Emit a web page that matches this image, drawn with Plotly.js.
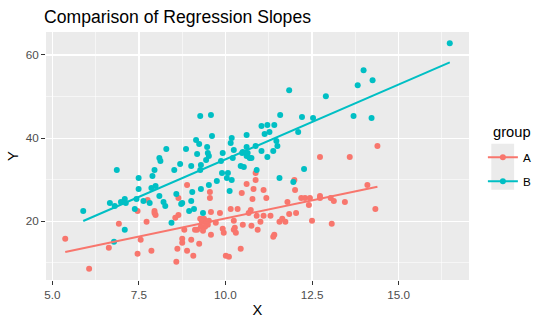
<!DOCTYPE html>
<html><head><meta charset="utf-8">
<script src="https://cdn.plot.ly/plotly-3.0.1.min.js"></script>
<style>html,body{margin:0;padding:0;background:#fff}#chart{width:548px;height:325px}</style>
</head><body><div id="chart"></div>
<script>
const groups = ["A","B"];
const legendTitle = "group";
const xA = [5.37,6.06,6.63,6.92,7.46,7.46,7.55,7.72,7.75,7.86,7.95,7.95,7.98,8.55,8.64,8.58,8.61,8.64,8.75,8.75,
8.81,8.89,8.89,9.01,9.07,9.24,9.27,9.38,9.32,9.44,9.52,9.49,9.41,9.29,9.18,9.12,9.35,9.58,9.72,9.92,
9.95,9.55,9.55,9.58,9.84,10.01,10.10,10.44,10.61,10.87,10.87,10.81,11.10,10.47,12.01,11.99,10.78,11.18,11.79,12.19,
12.30,12.44,12.73,12.41,10.15,10.35,10.73,10.67,10.90,11.10,11.30,11.84,12.04,10.24,11.01,11.56,11.64,11.73,12.50,10.50,
10.75,10.27,10.24,10.30,10.93,11.41,11.38,12.73,13.59,14.39,14.10,13.04,13.13,13.45,14.33,13.07,12.73];
const yA = [15.75,8.55,13.59,19.35,22.47,12.15,15.51,19.83,25.11,12.87,22.47,21.99,21.51,20.79,21.51,10.23,13.35,25.59,15.75,14.79,
17.91,28.72,12.87,15.51,11.67,14.55,20.55,20.55,19.83,19.59,20.07,19.11,18.63,18.63,17.91,17.91,17.67,16.71,19.59,18.15,
17.19,27.03,25.59,22.23,21.99,11.67,11.43,13.35,28.96,31.60,29.92,27.76,27.51,26.79,27.51,29.92,25.35,25.59,24.63,25.59,
25.59,25.59,26.07,23.91,22.95,22.95,22.71,21.99,21.27,21.27,21.27,21.75,21.99,20.07,19.83,19.83,20.55,19.83,20.07,19.11,
18.87,18.39,17.91,17.19,17.91,16.71,16.23,35.44,35.44,38.08,28.72,25.59,24.87,24.63,22.95,19.35,25.59];
const xB = [8.29,8.09,8.12,11.84,9.27,9.58,11.58,12.21,12.53,11.04,11.21,11.41,11.27,11.13,12.10,9.61,10.61,10.18,9.15,9.24,
10.15,11.47,11.50,9.47,10.61,8.86,10.24,11.04,11.38,9.18,9.49,9.92,9.52,10.48,10.64,10.61,11.21,10.70,10.75,10.21,
9.44,9.87,16.48,13.99,14.25,13.82,12.90,13.70,14.22,10.87,10.50,8.69,9.29,9.01,7.95,8.52,9.27,9.90,10.07,7.89,
7.49,10.04,9.75,9.52,7.98,7.86,7.49,9.29,10.44,10.53,12.27,10.90,10.18,11.56,11.96,10.12,6.86,8.09,8.58,6.66,
6.80,6.98,7.09,7.12,7.43,7.63,7.81,8.21,8.26,8.72,7.38,5.89,8.44,7.09,6.78,9.04,9.01,8.75,8.95,9.09,9.35];
const yB = [37.36,35.20,34.48,51.52,45.28,45.52,45.52,45.04,44.80,42.88,43.12,43.12,41.44,40.96,41.44,40.48,40.72,40.00,39.52,38.56,
38.80,39.28,38.08,37.84,37.84,37.36,37.12,36.88,36.88,36.16,36.40,36.40,35.68,36.40,36.40,35.68,35.44,35.20,35.20,35.20,
34.72,34.48,62.81,56.33,53.93,52.73,50.08,45.28,44.80,38.08,36.64,33.76,33.52,33.28,32.32,32.32,32.32,31.60,31.60,30.88,
30.40,30.40,29.68,28.72,28.48,28.00,27.76,27.76,33.28,33.04,32.56,32.32,29.92,30.40,29.44,27.27,32.32,26.07,26.55,24.39,
23.67,24.63,25.35,24.39,25.35,24.87,24.39,24.63,23.67,24.15,22.95,22.47,19.59,17.91,15.03,27.03,24.87,24.39,22.47,22.95,21.99];
const xTickVals = [5, 7.5, 10, 12.5, 15];
const xTickText = ["5.0","7.5","10.0","12.5","15.0"];
const yTickVals = [20, 40, 60];
const yTickText = ["20","40","60"];
const colA = "#F8766D", colB = "#00BFC4";

function lm(x, y) {
  const n = x.length;
  let sx=0, sy=0; for (let i=0;i<n;i++){sx+=x[i]; sy+=y[i];}
  const mx=sx/n, my=sy/n;
  let sxy=0, sxx=0; for (let i=0;i<n;i++){sxy+=(x[i]-mx)*(y[i]-my); sxx+=(x[i]-mx)*(x[i]-mx);}
  const b=sxy/sxx, a=my-b*mx;
  const x0=Math.min(...x), x1=Math.max(...x);
  const xs=[], ys=[];
  for (let k=0;k<=80;k++){const xv=x0+(x1-x0)*k/80; xs.push(xv); ys.push(a+b*xv);}
  return {x:xs, y:ys};
}
function expand(arr){const lo=Math.min(...arr), hi=Math.max(...arr), d=(hi-lo)*0.05; return [lo-d, hi+d];}
const allX = xA.concat(xB), allY = yA.concat(yB);
const fitA = lm(xA, yA), fitB = lm(xB, yB);

const traces = [
  {x:xA, y:yA, type:'scatter', mode:'markers', marker:{color:colA, size:6}, showlegend:false, hoverinfo:'skip'},
  {x:xB, y:yB, type:'scatter', mode:'markers', marker:{color:colB, size:6}, showlegend:false, hoverinfo:'skip'},
  {x:fitA.x, y:fitA.y, type:'scatter', mode:'lines', line:{color:colA, width:2}, showlegend:false, hoverinfo:'skip'},
  {x:fitB.x, y:fitB.y, type:'scatter', mode:'lines', line:{color:colB, width:2}, showlegend:false, hoverinfo:'skip'},
  {x:[null], y:[null], type:'scatter', mode:'lines+markers', name:groups[0], legendgroup:'A', line:{color:colA, width:2}, marker:{color:colA, size:6}},
  {x:[null], y:[null], type:'scatter', mode:'lines+markers', name:groups[1], legendgroup:'B', line:{color:colB, width:2}, marker:{color:colB, size:6}}
];

// plot area in px: left 46, right 472.5, top 32, bottom 280.5
const px2xp = p => (p-46)/426.5;
const px2yp = p => (280.5-p)/248.5;

const layout = {
  width:548, height:325,
  margin:{l:46, r:75.5, t:32, b:44.5},
  paper_bgcolor:'#FFFFFF', plot_bgcolor:'#EBEBEB',
  font:{family:'"Liberation Sans", Arial, sans-serif', color:'#000'},
  title:{text:'Comparison of Regression Slopes', font:{size:17.6, color:'#000'}, xref:'container', x:44/548, xanchor:'left', yref:'container', y:1-17/325, yanchor:'middle'},
  xaxis:{range:expand(allX), tickvals:xTickVals, ticktext:xTickText, showgrid:true, gridcolor:'#FFFFFF', gridwidth:1.1,
    zeroline:false, showline:false, ticks:'outside', ticklen:4, tickwidth:1, tickcolor:'#333333',
    tickfont:{size:11.7, color:'#4D4D4D'},
    minor:{tickvals:[6.25,8.75,11.25,13.75,16.25], showgrid:true, gridcolor:'#FFFFFF', gridwidth:0.55, ticks:''},
    title:{text:'X', font:{size:14.7, color:'#000'}, standoff:4}},
  yaxis:{range:expand(allY), tickvals:yTickVals, ticktext:yTickText, showgrid:true, gridcolor:'#FFFFFF', gridwidth:1.1,
    zeroline:false, showline:false, ticks:'outside', ticklen:4, tickwidth:1, tickcolor:'#333333',
    tickfont:{size:11.7, color:'#4D4D4D'},
    minor:{tickvals:[10,30,50], showgrid:true, gridcolor:'#FFFFFF', gridwidth:0.55, ticks:''},
    title:{text:'Y', font:{size:14.7, color:'#000'}, standoff:3}},
  legend:{x:px2xp(486.5), xanchor:'left', y:px2yp(143), yanchor:'top', bgcolor:'rgba(0,0,0,0)',
    font:{size:11.7, color:'#000'}, itemwidth:30, traceorder:'grouped', tracegroupgap:5},
  annotations:[
    {text:legendTitle, xref:'paper', yref:'paper', x:px2xp(495), y:px2yp(132), xanchor:'left', yanchor:'middle', showarrow:false, font:{size:14.7, color:'#000'}}
  ],
  shapes:[
    {type:'rect', xref:'paper', yref:'paper', x0:px2xp(495), x1:px2xp(518), y0:px2yp(190), y1:px2yp(144), fillcolor:'#EBEBEB', line:{width:0}, layer:'below'}
  ]
};
Plotly.newPlot('chart', traces, layout, {staticPlot:true, displayModeBar:false});
</script></body></html>
